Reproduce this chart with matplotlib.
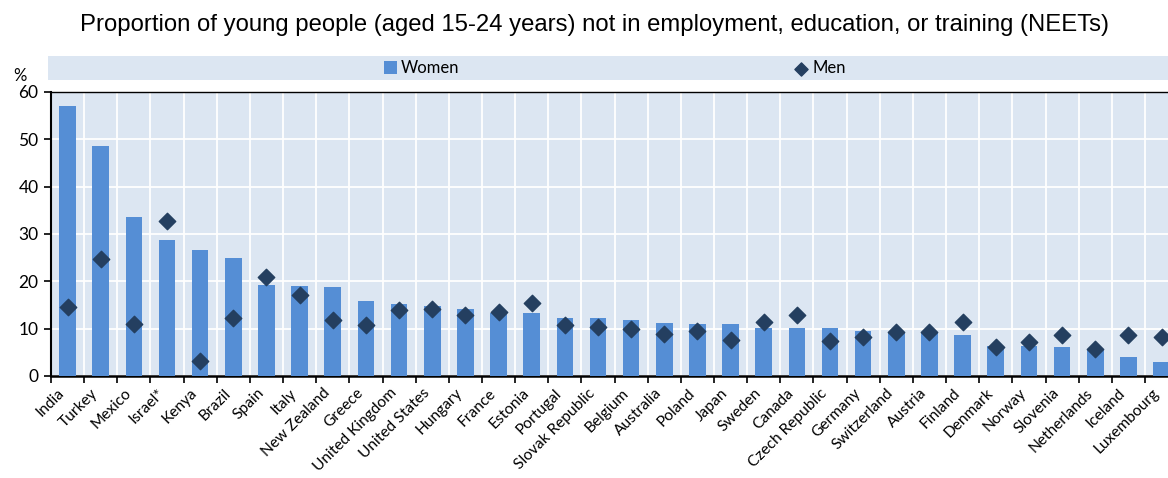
import matplotlib
matplotlib.use('Agg')
import matplotlib.pyplot as plt
from matplotlib.patches import Rectangle
import matplotlib.transforms as mtransforms
import numpy as np

# Données
countries = ['India', 'Turkey', 'Mexico', 'Israel*', 'Kenya', 'Brazil', 'Spain', 'Italy',
             'New Zealand', 'Greece', 'United Kingdom', 'United States', 'Hungary', 'France',
             'Estonia', 'Portugal', 'Slovak Republic', 'Belgium', 'Australia', 'Poland',
             'Japan', 'Sweden', 'Canada', 'Czech Republic', 'Germany', 'Switzerland',
             'Austria', 'Finland', 'Denmark', 'Norway', 'Slovenia', 'Netherlands',
             'Iceland', 'Luxembourg']
women = [57.1, 48.5, 33.6, 28.8, 26.7, 25.0, 19.3, 19.1, 18.7, 15.9, 15.3, 14.7, 14.2, 13.4,
         13.4, 12.2, 12.2, 11.9, 11.3, 11.0, 11.0, 10.1, 10.1, 10.1, 9.6, 9.3, 9.0, 8.7,
         6.4, 6.4, 6.1, 5.8, 4.1, 3.0]
men = [14.6, 24.7, 11.0, 32.8, 3.2, 12.2, 21.0, 17.2, 11.9, 10.7, 13.9, 14.1, 12.8, 13.6,
       15.5, 10.8, 10.3, 9.9, 8.9, 9.6, 7.6, 11.4, 12.9, 7.3, 8.3, 9.4, 9.4, 11.5,
       6.1, 7.1, 8.6, 5.8, 8.6, 8.2]
yticks = [0, 10, 20, 30, 40, 50, 60]

bar_color = '#558ED5'
men_color = '#243F60'
bg_color = '#DCE6F2'
label_font = 'Lato'

W, H = 1168, 478
fig = plt.figure(figsize=(W / 100, H / 100), dpi=100)

# axe: gauche 51px, haut 92px, bas 376px; la droite dépasse l'image
n = len(countries)
step = 33.15
left = 51 / W
right = (51 + step * (n + 1)) / W
ax = fig.add_axes([left, (H - 376) / H, right - left, (376 - 92) / H])
ax.set_facecolor(bg_color)

x = np.arange(n)
bars = ax.bar(x, women, width=0.5, color=bar_color, zorder=3, label='Women')
pts = ax.scatter(x, men, marker='D', s=70, color=men_color, zorder=4, label='Men')

ax.set_xlim(-0.5, n + 0.5)
ax.set_ylim(0, 60)
ax.set_yticks(yticks)

# grille blanche sur les limites des catégories
ax.set_xticks(np.arange(-0.5, n + 0.5, 1))
ax.set_xticklabels([])
ax.tick_params(axis='x', which='major', length=5, width=1.2, direction='out')
ax.tick_params(axis='y', length=5, width=1.2, direction='out', labelsize=12.5, pad=4)
for lab in ax.get_yticklabels():
    lab.set_family(label_font)

# étiquettes des pays (décalées un peu à gauche)
trans = mtransforms.blended_transform_factory(ax.transData, ax.transAxes)
offset = mtransforms.ScaledTranslation(-5 / 100, -15 / 100, fig.dpi_scale_trans)
for xi, name in zip(x, countries):
    ax.text(xi, 0, name, transform=trans + offset, rotation=45, ha='right',
            va='center', rotation_mode='anchor', fontsize=11.2, family=label_font)

ax.grid(True, which='major', color='white', linewidth=1.3, zorder=0)
ax.set_axisbelow(True)

for side in ['left', 'bottom', 'top']:
    ax.spines[side].set_color('black')
ax.spines['left'].set_linewidth(1.5)
ax.spines['bottom'].set_linewidth(1.8)
ax.spines['top'].set_linewidth(1.0)
ax.spines['right'].set_visible(False)

# bandeau de légende
fig.patches.append(Rectangle((48 / W, (H - 80) / H), 1 - 48 / W, 24 / H,
                             transform=fig.transFigure, facecolor=bg_color,
                             edgecolor='none', zorder=0))
leg_kw = dict(loc='center left', frameon=False,
              prop={'family': label_font, 'size': 12},
              handletextpad=0.2, borderaxespad=0, borderpad=0)
fig.legend([bars], ['Women'], bbox_to_anchor=(384 / W, (H - 68) / H),
           handlelength=0.8, handleheight=0.8, **leg_kw)
fig.legend([pts], ['Men'], bbox_to_anchor=(793 / W, (H - 68) / H),
           handlelength=1.0, markerscale=0.8, **leg_kw)

fig.text(20 / W, (H - 76) / H, '%', fontsize=12, family=label_font,
         ha='center', va='center')
fig.text(595 / W, (H - 25) / H,
         'Proportion of young people (aged 15-24 years) not in employment, education, or training (NEETs)',
         ha='center', va='center', fontsize=17.2, family='Liberation Sans')

fig.savefig('out.png', dpi=100)
